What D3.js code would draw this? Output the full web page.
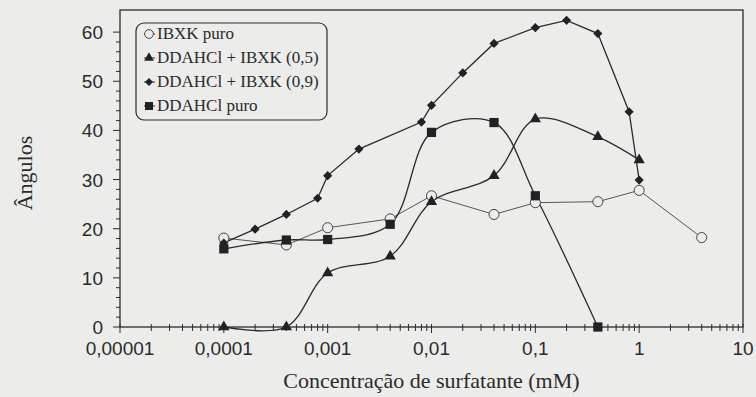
<!DOCTYPE html>
<html>
<head>
<meta charset="utf-8">
<script src="https://cdn.jsdelivr.net/npm/d3@7"></script>
<style>
  body { margin: 0; background: #ececea; }
  svg { display: block; }
</style>
</head>
<body>
<div id="chart"></div>
<script>
// IBXK puro (open circles)
const xIbxk = [1e-4, 4e-4, 1e-3, 4e-3, 1e-2, 4e-2, 0.1, 0.4, 1, 4];
const yIbxk = [18.1, 16.7, 20.2, 22.0, 26.7, 22.9, 25.3, 25.5, 27.8, 18.2];

// DDAHCl + IBXK (0,5) (triangles)
const xMix05 = [1e-4, 4e-4, 1e-3, 4e-3, 1e-2, 4e-2, 0.1, 0.4, 1];
const yMix05 = [0, 0, 11.0, 14.4, 25.5, 30.8, 42.3, 38.7, 34.0];

// DDAHCl + IBXK (0,9) (diamonds)
const xMix09 = [1e-4, 2e-4, 4e-4, 8e-4, 1e-3, 2e-3, 8e-3, 1e-2, 2e-2, 4e-2, 0.1, 0.2, 0.4, 0.8, 1];
const yMix09 = [17.1, 19.9, 22.9, 26.2, 30.8, 36.2, 41.7, 45.1, 51.7, 57.7, 60.9, 62.4, 59.7, 43.8, 29.9];

// DDAHCl puro (squares)
const xDdahcl = [1e-4, 4e-4, 1e-3, 4e-3, 1e-2, 4e-2, 0.1, 0.4];
const yDdahcl = [15.9, 17.7, 17.8, 20.9, 39.6, 41.6, 26.7, 0];

const xTickValues = [1e-5, 1e-4, 1e-3, 1e-2, 0.1, 1, 10];
const xTickLabels = ['0,00001', '0,0001', '0,001', '0,01', '0,1', '1', '10'];
const yTickValues = [0, 10, 20, 30, 40, 50, 60];

const legendLabels = ['IBXK puro', 'DDAHCl + IBXK (0,5)', 'DDAHCl + IBXK (0,9)', 'DDAHCl puro'];

const width = 756, height = 397;
const plotLeft = 120, plotRight = 743, plotTop = 10, plotBottom = 327;
const bg = '#ececea';
const ink = '#2b2b2b';

const svg = d3.select('#chart').append('svg')
  .attr('width', width)
  .attr('height', height);

svg.append('rect').attr('width', width).attr('height', height).attr('fill', bg);

const x = d3.scaleLog().domain([1e-5, 10]).range([plotLeft, plotRight]);
const y = d3.scaleLinear().domain([0, 64.5]).range([plotBottom, plotTop]);

// frame
svg.append('rect')
  .attr('x', plotLeft).attr('y', plotTop)
  .attr('width', plotRight - plotLeft).attr('height', plotBottom - plotTop)
  .attr('fill', 'none').attr('stroke', ink).attr('stroke-width', 1.3);

// x ticks (crossing the axis line)
const minorX = [];
for (let e = -5; e < 1; e++) {
  for (let k = 2; k <= 9; k++) minorX.push(k * Math.pow(10, e));
}
const gx = svg.append('g').attr('stroke', ink).attr('stroke-width', 1);
gx.selectAll('line.minor').data(minorX).enter().append('line')
  .attr('x1', d => x(d)).attr('x2', d => x(d))
  .attr('y1', plotBottom - 3).attr('y2', plotBottom + 4);
gx.selectAll('line.major').data(xTickValues).enter().append('line')
  .attr('x1', d => x(d)).attr('x2', d => x(d))
  .attr('y1', plotBottom - 3).attr('y2', plotBottom + 6);

svg.append('g').selectAll('text').data(xTickValues).enter().append('text')
  .attr('x', d => x(d))
  .attr('y', 355)
  .attr('text-anchor', 'middle')
  .style('font-family', '"Liberation Sans", Arial, sans-serif')
  .style('font-size', '19px')
  .attr('fill', ink)
  .text((d, i) => xTickLabels[i]);

// y ticks
const minorY = d3.range(0, 61, 2).filter(v => v % 10 !== 0);
const gy = svg.append('g').attr('stroke', ink).attr('stroke-width', 1);
gy.selectAll('line.minor').data(minorY).enter().append('line')
  .attr('x1', plotLeft - 4).attr('x2', plotLeft)
  .attr('y1', d => y(d)).attr('y2', d => y(d));
gy.selectAll('line.major').data(yTickValues).enter().append('line')
  .attr('x1', plotLeft - 7).attr('x2', plotLeft)
  .attr('y1', d => y(d)).attr('y2', d => y(d));

svg.append('g').selectAll('text').data(yTickValues).enter().append('text')
  .attr('x', 103)
  .attr('y', d => y(d) + 7)
  .attr('text-anchor', 'end')
  .style('font-family', '"Liberation Sans", Arial, sans-serif')
  .style('font-size', '19px')
  .attr('fill', ink)
  .text(d => d);

// axis titles
svg.append('text')
  .attr('x', (plotLeft + plotRight) / 2)
  .attr('y', 388)
  .attr('text-anchor', 'middle')
  .style('font-family', '"Liberation Serif", "Times New Roman", serif')
  .style('font-size', '22px')
  .attr('fill', ink)
  .text('Concentração de surfatante (mM)');

svg.append('text')
  .attr('transform', 'translate(32,173) rotate(-90)')
  .attr('text-anchor', 'middle')
  .style('font-family', '"Liberation Serif", "Times New Roman", serif')
  .style('font-size', '22px')
  .attr('fill', ink)
  .text('Ângulos');

// series (diamond = square turned 45 degrees)
const zip = (xs, ys) => xs.map((v, i) => [v, ys[i]]);
const series = [
  { pts: zip(xIbxk, yIbxk), curve: d3.curveLinear, sym: d3.symbolCircle, size: 80, rot: 0, open: true, sw: 1 },
  { pts: zip(xMix05, yMix05), curve: d3.curveCatmullRom, sym: d3.symbolTriangle, size: 55, rot: 0, open: false, sw: 1.3 },
  { pts: zip(xMix09, yMix09), curve: d3.curveLinear, sym: d3.symbolSquare, size: 42, rot: 45, open: false, sw: 1.3 },
  { pts: zip(xDdahcl, yDdahcl), curve: d3.curveCatmullRom, sym: d3.symbolSquare, size: 85, rot: 0, open: false, sw: 1.3 }
];

series.forEach(s => {
  const line = d3.line()
    .x(d => x(d[0]))
    .y(d => y(d[1]))
    .curve(s.curve);
  svg.append('path')
    .attr('d', line(s.pts))
    .attr('fill', 'none')
    .attr('stroke', s.open ? '#555' : ink)
    .attr('stroke-width', s.sw);
});

series.forEach(s => {
  svg.append('g').selectAll('path').data(s.pts).enter().append('path')
    .attr('transform', d => `translate(${x(d[0])},${y(d[1])}) rotate(${s.rot})`)
    .attr('d', d3.symbol().type(s.sym).size(s.size))
    .attr('fill', s.open ? bg : '#222')
    .attr('stroke', s.open ? '#444' : 'none')
    .attr('stroke-width', 1);
});

// legend
const lg = svg.append('g');
lg.append('rect')
  .attr('x', 136).attr('y', 23)
  .attr('width', 191).attr('height', 97)
  .attr('rx', 8)
  .attr('fill', bg)
  .attr('stroke', ink).attr('stroke-width', 1.2);

legendLabels.forEach((label, i) => {
  const cy = 33 + i * 24;
  const s = series[i];
  lg.append('line')
    .attr('x1', 144).attr('x2', 155)
    .attr('y1', cy + 1).attr('y2', cy + 1)
    .attr('stroke', ink).attr('stroke-width', 1);
  lg.append('path')
    .attr('transform', `translate(149,${cy + 1}) rotate(${s.rot})`)
    .attr('d', d3.symbol().type(s.sym).size(s.size * 0.75))
    .attr('fill', s.open ? bg : '#222')
    .attr('stroke', s.open ? '#444' : 'none');
  lg.append('text')
    .attr('x', 157)
    .attr('y', cy + 6)
    .style('font-family', '"Liberation Serif", "Times New Roman", serif')
    .style('font-size', '17px')
    .attr('fill', ink)
    .text(label);
});
</script>
</body>
</html>
